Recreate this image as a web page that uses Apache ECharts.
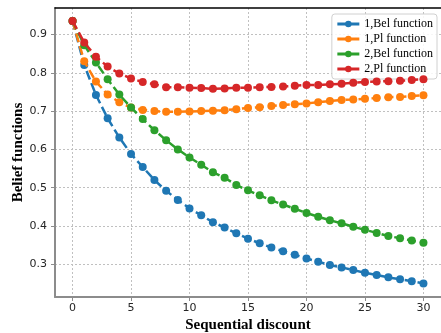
<!DOCTYPE html>
<html>
<head>
<meta charset="utf-8">
<script src="https://cdn.jsdelivr.net/npm/echarts@6/dist/echarts.min.js"></script>
<style>
  html, body { margin: 0; padding: 0; background: #fff; }
  #chart { width: 441px; height: 333px; }
</style>
</head>
<body>
<div id="chart"></div>
<script>
// Sequential discount steps 0..30
const steps = Array.from({ length: 31 }, (_, i) => i);

const bel1 = [0.935, 0.820, 0.742, 0.681, 0.631, 0.588, 0.554, 0.520, 0.492, 0.468,
  0.446, 0.428, 0.410, 0.396, 0.381, 0.367, 0.355, 0.344, 0.334, 0.325,
  0.315, 0.307, 0.298, 0.292, 0.285, 0.278, 0.272, 0.266, 0.261, 0.256, 0.250];
const pl1 = [0.935, 0.830, 0.777, 0.743, 0.723, 0.709, 0.703, 0.700, 0.698, 0.698,
  0.699, 0.700, 0.701, 0.702, 0.705, 0.708, 0.710, 0.713, 0.716, 0.718,
  0.720, 0.723, 0.726, 0.729, 0.730, 0.732, 0.734, 0.736, 0.737, 0.739, 0.741];
const bel2 = [0.935, 0.872, 0.827, 0.783, 0.743, 0.709, 0.679, 0.650, 0.624, 0.600,
  0.579, 0.560, 0.540, 0.526, 0.507, 0.493, 0.480, 0.467, 0.456, 0.445,
  0.434, 0.424, 0.415, 0.407, 0.398, 0.390, 0.382, 0.374, 0.368, 0.362, 0.356];
const pl2 = [0.935, 0.879, 0.842, 0.816, 0.798, 0.785, 0.776, 0.770, 0.762, 0.762,
  0.761, 0.760, 0.758, 0.759, 0.761, 0.761, 0.762, 0.763, 0.764, 0.766,
  0.768, 0.768, 0.770, 0.771, 0.774, 0.776, 0.777, 0.778, 0.779, 0.781, 0.783];

const xTicks = [0, 5, 10, 15, 20, 25, 30];
const yTicks = [0.3, 0.4, 0.5, 0.6, 0.7, 0.8, 0.9];

const seriesNames = ['1,Bel function', '1,Pl function', '2,Bel function', '2,Pl function'];
const seriesData = [bel1, pl1, bel2, pl2];
const colors = ['#1f77b4', '#ff7f0e', '#2ca02c', '#d62728'];

const chart = echarts.init(document.getElementById('chart'), null, { renderer: 'canvas' });

const gridLine = { show: true, lineStyle: { color: '#c0c0c0', type: [2, 2], width: 1 } };
const tickFont = { fontFamily: 'DejaVu Sans', fontSize: 11, color: '#262626' };
const titleFont = { fontFamily: 'Liberation Serif', fontWeight: 'bold', fontSize: 15, color: '#000' };

const series = seriesNames.map((name, k) => ({
  name,
  type: 'line',
  data: steps.map((s, i) => [s, seriesData[k][i]]),
  symbol: 'circle',
  symbolSize: 8,
  color: colors[k],
  lineStyle: { width: 2.5, type: [9, 4], color: colors[k] },
  itemStyle: { color: colors[k] },
  z: 2 + k
}));

chart.setOption({
  animation: false,
  backgroundColor: '#fff',
  grid: { left: 55, right: 0, top: 8, bottom: 36, outerBoundsMode: 'none', containLabel: false },
  xAxis: [{
    type: 'value',
    min: -1.5, max: 31.5,
    axisLine: { show: true, onZero: false, lineStyle: { color: '#8c8c8c', width: 2 } },
    axisTick: { show: true, customValues: xTicks, length: 4, lineStyle: { color: '#8c8c8c' } },
    axisLabel: { customValues: xTicks, margin: 6, ...tickFont },
    splitLine: gridLine,
    name: 'Sequential discount',
    nameLocation: 'middle',
    nameGap: 21,
    nameMoveOverlap: false,
    nameTextStyle: titleFont
  }, {
    type: 'value',
    position: 'top',
    min: -1.5, max: 31.5,
    axisLine: { show: true, onZero: false, lineStyle: { color: '#000', width: 1.5 } },
    axisTick: { show: false },
    axisLabel: { show: false },
    splitLine: { show: false }
  }],
  yAxis: {
    type: 'value',
    min: 0.2147, max: 0.969,
    axisLine: { show: true, onZero: false, lineStyle: { color: '#8c8c8c', width: 2 } },
    axisTick: { show: true, customValues: yTicks, length: 4, lineStyle: { color: '#8c8c8c' } },
    axisLabel: { customValues: yTicks, margin: 8, formatter: v => v.toFixed(1), ...tickFont },
    splitLine: gridLine,
    name: 'Belief functions',
    nameLocation: 'middle',
    nameGap: 29,
    nameMoveOverlap: false,
    nameTextStyle: titleFont
  },
  legend: {
    orient: 'vertical',
    right: 4,
    top: 14,
    data: seriesNames,
    itemWidth: 22,
    itemHeight: 8,
    itemGap: 3,
    padding: [4, 4, 4, 4],
    backgroundColor: 'rgba(255,255,255,0.85)',
    borderColor: '#d0d0d0',
    borderWidth: 1,
    borderRadius: 3,
    lineStyle: { width: 3, type: 'solid' },
    textStyle: { fontFamily: 'Liberation Serif', fontSize: 12, color: '#000' }
  },
  series
});
</script>
</body>
</html>
